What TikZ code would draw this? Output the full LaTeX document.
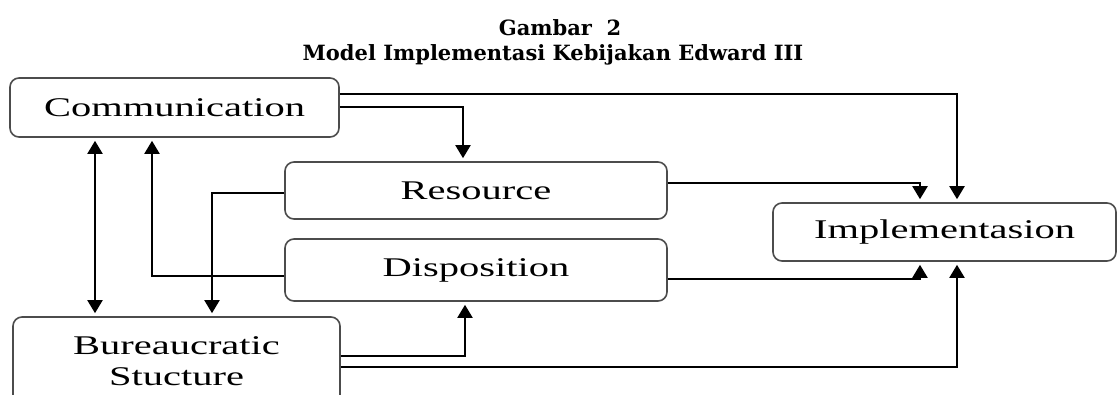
\documentclass[tikz,border=0pt]{standalone}
\usepackage{fontspec}
\setmainfont{Liberation Serif}
\newfontfamily\boxfont[FakeStretch=1.5]{Liberation Serif}
\newfontfamily\titlefont{DejaVu Serif}
\usetikzlibrary{arrows.meta}

\begin{document}
\begin{tikzpicture}[x=1pt, y=-1pt,
    box/.style={draw=black!70, line width=1.6pt, rounded corners=9pt, inner sep=0pt,
        font=\boxfont\fontsize{27}{31}\selectfont},
    arr/.style={line width=2pt, -{Triangle[width=15pt,length=13pt]}, shorten >=3pt}]
    \clip (0,0) rectangle (1119,394);
    % title
    \node[font=\titlefont\bfseries\fontsize{21}{24}\selectfont] (title1) at (560,28) {Gambar\ \ 2};
    \node[font=\titlefont\bfseries\fontsize{21}{24}\selectfont] (title2) at (553,55) {Model Implementasi Kebijakan Edward III};
    % boxes
    \node[box, minimum width=329pt, minimum height=59pt] (comm) at (174.5,107.5) {Communication};
    \node[box, minimum width=382pt, minimum height=57pt] (res) at (476,190.5) {Resource};
    \node[box, minimum width=382pt, minimum height=62pt] (disp) at (476,270) {Disposition};
    \node[box, minimum width=327pt, minimum height=88pt, align=center] (bur) at (176.5,361) {Bureaucratic\\Stucture};
    \node[box, minimum width=343pt, minimum height=58pt] (impl) at (944.5,232) {Implementasion};
    % to implementasion
    \draw[arr] ([yshift=13.5pt]comm.east) -| ([xshift=12.5pt]impl.north);
    \draw[arr] ([yshift=7.5pt]res.east) -| ([xshift=-24.5pt]impl.north);
    \draw[arr] ([yshift=-9pt]disp.east) -| ([xshift=-24.5pt]impl.south);
    \draw[arr] ([yshift=-6pt]bur.east) -| ([xshift=12.5pt]impl.south);
    % between the factors
    \draw[arr] ([yshift=0.5pt]comm.east) -| ([xshift=-13pt]res.north);
    \draw[arr] ([yshift=5pt]bur.east) -| ([xshift=-11pt]disp.south);
    \draw[arr, shorten <=3pt, {Triangle[width=15pt,length=13pt]}-{Triangle[width=15pt,length=13pt]}]
        ([xshift=-79.5pt]comm.south) -- ([xshift=-79.5pt]comm.south |- bur.north);
    \draw[arr] ([yshift=-6pt]disp.west) -| ([xshift=-22.5pt]comm.south);
    \draw[arr] ([yshift=-2.5pt]res.west) -| ([xshift=35.5pt]bur.north);
\end{tikzpicture}
\end{document}
